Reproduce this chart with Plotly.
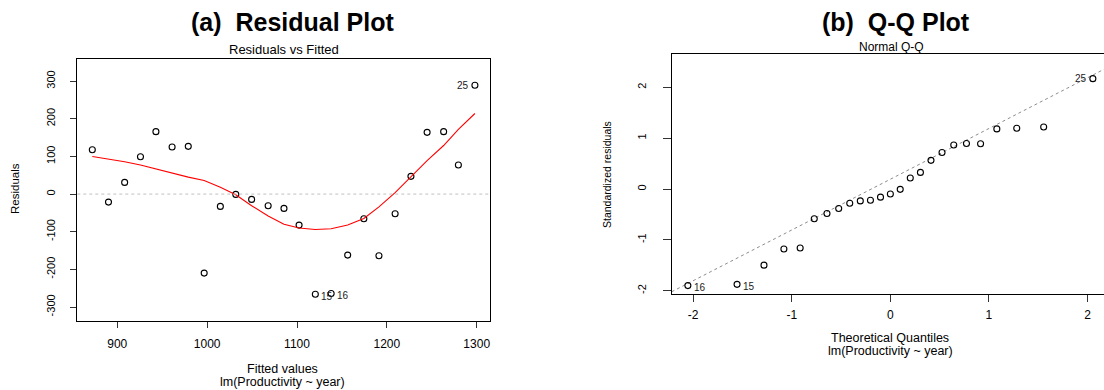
import numpy as np
import plotly.graph_objects as go

W, H = 1104, 390
FONT = "Liberation Sans, Arial, Helvetica, sans-serif"

# ---------------- data: (a) Residuals vs Fitted ----------------
fitted = [872.2, 890.2, 908.2, 925.8, 943.0, 961.0, 979.0, 996.7, 1014.7, 1031.9,
          1049.5, 1067.9, 1085.5, 1102.3, 1120.4, 1138.0, 1156.4, 1174.4, 1191.2,
          1209.2, 1226.8, 1244.8, 1263.2, 1279.6, 1298.0]
residuals = [117.9, -21.3, 31.0, 99.3, 165.8, 125.0, 126.8, -210.0, -32.8, -0.9,
             -14.2, -31.0, -38.1, -82.4, -266.0, -264.0, -162.2, -65.6, -164.0,
             -52.3, 47.0, 164.0, 165.8, 77.1, 289.0]
smooth = [100, 93, 86, 77, 66, 55, 45, 36, 18, -2, -31, -58, -80, -90, -94, -92,
          -82, -65, -34, 4, 46, 89, 129, 172, 214]
resid_labels = {14: ("15", "right"), 15: ("16", "right"), 24: ("25", "left")}
xticks_a = [900, 1000, 1100, 1200, 1300]
yticks_a = [-300, -200, -100, 0, 100, 200, 300]

# ---------------- data: (b) Normal Q-Q ----------------
theo_q = [-2.054, -1.555, -1.282, -1.080, -0.915, -0.772, -0.643, -0.524, -0.412,
          -0.305, -0.202, -0.100, 0.000, 0.100, 0.202, 0.305, 0.412, 0.524, 0.643,
          0.772, 0.915, 1.080, 1.282, 1.555, 2.054]
std_resid = [-1.900, -1.875, -1.498, -1.180, -1.160, -0.585, -0.481, -0.384, -0.280,
             -0.234, -0.221, -0.160, -0.098, -0.007, 0.215, 0.326, 0.563, 0.718,
             0.865, 0.895, 0.891, 1.182, 1.195, 1.218, 2.170]
qq_labels = {0: ("16", "right"), 1: ("15", "right"), 24: ("25", "left")}
xticks_b = [-2, -1, 0, 1, 2]
yticks_b = [-2, -1, 0, 1, 2]

# ---------------- geometry (pixels) ----------------
def px_x(p):
    return p / W

def px_y(p):
    return 1 - p / H

xr_a = [855.5, 1314.9]
yr_a = [-336.4, 359.6]
xr_b = [-2.218, 2.167]
yr_b = [-2.065, 2.649]

fig = go.Figure()

# (a)
fig.add_trace(go.Scatter(x=fitted, y=residuals, mode="markers", xaxis="x", yaxis="y",
                         marker=dict(symbol="circle-open", size=6, color="black",
                                     line=dict(width=1.1, color="black")),
                         showlegend=False, hoverinfo="skip"))
fig.add_trace(go.Scatter(x=fitted, y=smooth, mode="lines", xaxis="x", yaxis="y",
                         line=dict(color="#ff0000", width=1.1),
                         showlegend=False, hoverinfo="skip"))

# (b) qq line through quartiles
q1, q3 = np.quantile(std_resid, [0.25, 0.75])
z = 0.6744898
slope = (q3 - q1) / (2 * z)
inter = q1 + slope * z
line_x = np.array(xr_b)
fig.add_trace(go.Scatter(x=line_x, y=inter + slope * line_x, mode="lines", xaxis="x2", yaxis="y2",
                         line=dict(color="#8c8c8c", width=1, dash="dot"),
                         showlegend=False, hoverinfo="skip"))
fig.add_trace(go.Scatter(x=theo_q, y=std_resid, mode="markers", xaxis="x2", yaxis="y2",
                         marker=dict(symbol="circle-open", size=6, color="black",
                                     line=dict(width=1.1, color="black")),
                         showlegend=False, hoverinfo="skip"))

annotations = []

def add_point_labels(xs, ys, labels, xref, yref):
    for i, (txt, side) in labels.items():
        annotations.append(dict(x=xs[i], y=ys[i], xref=xref, yref=yref, text=txt,
                                showarrow=False, font=dict(family=FONT, size=10, color="#222"),
                                xanchor="left" if side == "right" else "right",
                                xshift=4 if side == "right" else -4, yshift=-2 if side == "right" else 0))

add_point_labels(fitted, residuals, resid_labels, "x", "y")
add_point_labels(theo_q, std_resid, qq_labels, "x2", "y2")

def text_px(txt, x, y, size, angle=0, bold=False):
    annotations.append(dict(x=px_x(x), y=px_y(y), xref="paper", yref="paper",
                            text=f"<b>{txt}</b>" if bold else txt, showarrow=False,
                            textangle=angle, xanchor="center", yanchor="middle",
                            borderpad=0,
                            font=dict(family=FONT, size=size, color="black")))

text_px("(a)  Residual Plot", 292, 22, 25, bold=True)
text_px("(b)  Q-Q Plot", 896, 22, 25, bold=True)
text_px("Residuals vs Fitted", 284, 50, 13)
text_px("Normal Q-Q", 891, 47, 12)
text_px("Fitted values", 283, 368.5, 12.5)
text_px("lm(Productivity ~ year)", 283, 381.5, 12.5)
text_px("Theoretical Quantiles", 890, 338, 12.5)
text_px("lm(Productivity ~ year)", 890, 351, 12.5)
text_px("Residuals", 15, 189, 11.5, angle=-90)
text_px("Standardized residuals", 607, 175, 10.5, angle=-90)

axis_common = dict(showgrid=False, zeroline=False, linecolor="black", linewidth=1,
                   ticks="outside", tickcolor="#333", tickwidth=1, showline=True,
                   tickfont=dict(family=FONT, size=12, color="black"))

fig.update_layout(
    width=W, height=H, autosize=False,
    margin=dict(l=0, r=0, t=0, b=0),
    paper_bgcolor="white", plot_bgcolor="white",
    xaxis=dict(axis_common, domain=[px_x(77.3), px_x(490.1)], range=xr_a, tickvals=xticks_a,
               ticktext=[str(v) for v in xticks_a],
               mirror=True, anchor="y", ticklen=6, ticklabelstandoff=6),
    yaxis=dict(axis_common, domain=[px_y(320.7), px_y(58.7)], range=yr_a, tickvals=yticks_a,
               ticktext=[str(v) for v in yticks_a],
               mirror=True, anchor="x", ticklen=6, tickangle=-90, ticklabelstandoff=11,
               tickfont=dict(family=FONT, size=11, color="black")),
    xaxis2=dict(axis_common, domain=[px_x(671.7), 1.0], range=xr_b, tickvals=xticks_b,
                ticktext=[str(v) for v in xticks_b],
                mirror=True, anchor="y2", ticklen=7, ticklabelstandoff=3),
    yaxis2=dict(axis_common, domain=[px_y(294), px_y(54.3)], range=yr_b, tickvals=yticks_b,
                ticktext=[str(v) for v in yticks_b],
                mirror=False, anchor="x2", ticklen=8, tickangle=-90, ticklabelstandoff=12,
                tickfont=dict(family=FONT, size=11, color="black")),
    annotations=annotations,
    shapes=[dict(type="line", xref="x domain", yref="y", x0=0, x1=1, y0=0, y1=0,
                 line=dict(color="#c0c0c0", width=1, dash="dot"))],
)

fig.write_html("out.html", config={"displayModeBar": False},
               post_script="document.body.style.margin='0';document.body.style.padding='0';")
